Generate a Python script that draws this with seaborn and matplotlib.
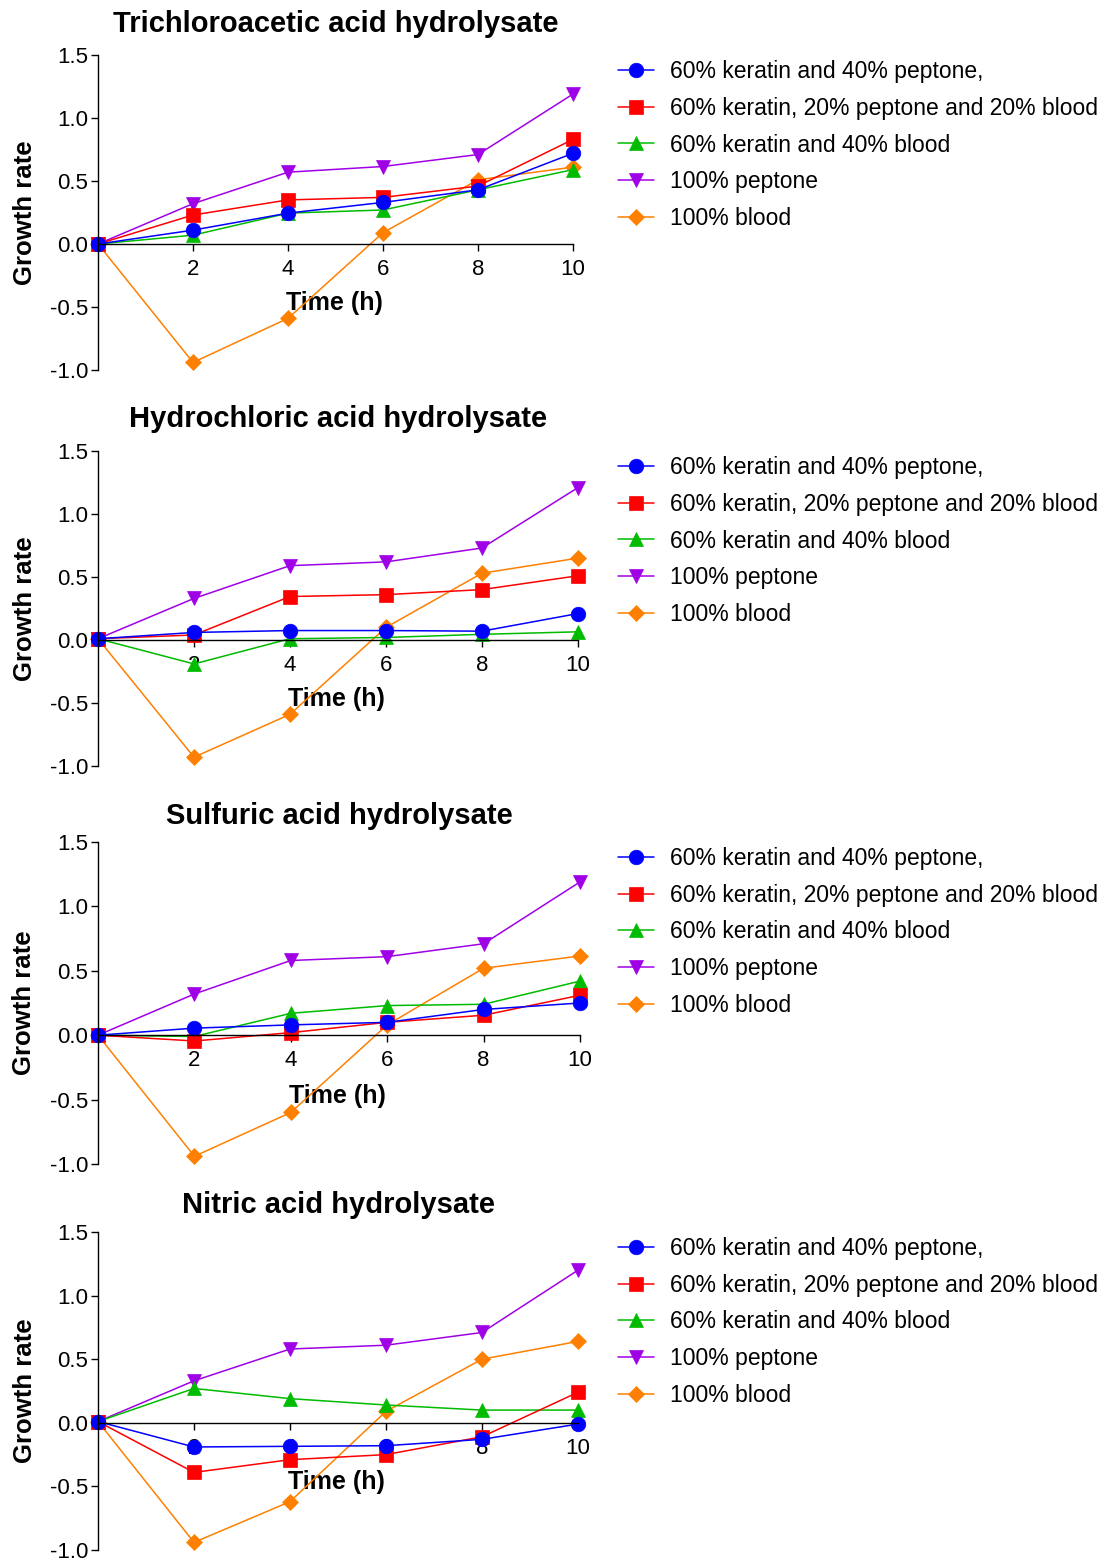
import matplotlib
matplotlib.use("Agg")
import matplotlib.pyplot as plt
import seaborn as sns
import pandas as pd

# ---------------- data ----------------
times = [0, 2, 4, 6, 8, 10]
series_names = [
    "60% keratin and 40% peptone,",
    "60% keratin, 20% peptone and 20% blood",
    "60% keratin and 40% blood",
    "100% peptone",
    "100% blood",
]
panel_titles = [
    "Trichloroacetic acid hydrolysate",
    "Hydrochloric acid hydrolysate",
    "Sulfuric acid hydrolysate",
    "Nitric acid hydrolysate",
]

tca_kp = [0.0, 0.11, 0.245, 0.33, 0.43, 0.72]
tca_kpb = [0.0, 0.23, 0.35, 0.37, 0.46, 0.83]
tca_kb = [0.0, 0.07, 0.245, 0.27, 0.43, 0.59]
tca_p = [0.0, 0.32, 0.57, 0.615, 0.71, 1.19]
tca_b = [0.0, -0.94, -0.59, 0.09, 0.51, 0.61]

hcl_kp = [0.01, 0.06, 0.075, 0.075, 0.07, 0.21]
hcl_kpb = [0.01, 0.04, 0.345, 0.36, 0.40, 0.51]
hcl_kb = [0.01, -0.19, 0.01, 0.02, 0.045, 0.065]
hcl_p = [0.01, 0.33, 0.59, 0.62, 0.73, 1.21]
hcl_b = [0.01, -0.93, -0.59, 0.10, 0.53, 0.65]

sul_kp = [0.0, 0.055, 0.08, 0.10, 0.20, 0.25]
sul_kpb = [0.0, -0.045, 0.02, 0.10, 0.155, 0.31]
sul_kb = [0.0, -0.01, 0.17, 0.23, 0.24, 0.42]
sul_p = [0.0, 0.32, 0.58, 0.61, 0.71, 1.19]
sul_b = [0.0, -0.94, -0.60, 0.08, 0.52, 0.615]

nit_kp = [0.01, -0.19, -0.185, -0.18, -0.13, -0.01]
nit_kpb = [0.01, -0.39, -0.29, -0.25, -0.11, 0.24]
nit_kb = [0.01, 0.27, 0.19, 0.14, 0.10, 0.10]
nit_p = [0.01, 0.33, 0.58, 0.61, 0.71, 1.20]
nit_b = [0.01, -0.94, -0.62, 0.09, 0.50, 0.64]

yticks = [-1.0, -0.5, 0.0, 0.5, 1.0, 1.5]
ytick_labels = ["-1.0", "-0.5", "0.0", "0.5", "1.0", "1.5"]
xticks = [2, 4, 6, 8, 10]
xtick_labels = ["2", "4", "6", "8", "10"]

panels = [
    [tca_kp, tca_kpb, tca_kb, tca_p, tca_b],
    [hcl_kp, hcl_kpb, hcl_kb, hcl_p, hcl_b],
    [sul_kp, sul_kpb, sul_kb, sul_p, sul_b],
    [nit_kp, nit_kpb, nit_kb, nit_p, nit_b],
]

# ---------------- style ----------------
sns.set_theme(style="ticks")
plt.rcParams["font.family"] = ["Liberation Sans", "DejaVu Sans"]
plt.rcParams["axes.unicode_minus"] = False
plt.rcParams["text.color"] = "black"
plt.rcParams["axes.labelcolor"] = "black"

colors = ["#0000FF", "#FF0000", "#00BB00", "#A000E6", "#FF8000"]
markers = ["o", "s", "^", "v", "D"]
msizes = [10.5, 9.5, 10, 10, 8]

W, H = 1109, 1560
fig = plt.figure(figsize=(W / 100, H / 100), dpi=100)

# axes rectangles in pixels: (left, top, right, bottom)
rects = [(98, 55, 573, 370), (98, 451, 578, 766), (98, 842, 580, 1164), (98, 1232, 578, 1550)]
title_pads = [16.5, 17, 13, 13.5]

for pi, (vals_list, title) in enumerate(zip(panels, panel_titles)):
    l, t, r, b = rects[pi]
    ax = fig.add_axes([l / W, 1 - b / H, (r - l) / W, (b - t) / H])
    df = pd.DataFrame({
        "Time": times * len(series_names),
        "Growth": [v for vals in vals_list for v in vals],
        "Series": [s for s in series_names for _ in times],
    })
    handles = {}
    for si in reversed(range(len(series_names))):
        name = series_names[si]
        sub = df[df["Series"] == name]
        sns.lineplot(data=sub, x="Time", y="Growth", ax=ax, color=colors[si],
                     marker=markers[si], markersize=msizes[si],
                     markeredgecolor=colors[si], markeredgewidth=0.5,
                     linewidth=1.1, clip_on=False, label=name, legend=False)
        handles[name] = ax.lines[-1]
    ax.set_xlim(0, 10)
    ax.set_ylim(-1.0, 1.5)
    ax.spines["top"].set_visible(False)
    ax.spines["right"].set_visible(False)
    ax.spines["bottom"].set_position(("data", 0))
    for sp in ("left", "bottom"):
        ax.spines[sp].set_linewidth(1.0)
        ax.spines[sp].set_color("black")
    ax.set_xticks(xticks)
    ax.set_xticklabels(xtick_labels)
    ax.set_yticks(yticks)
    ax.set_yticklabels(ytick_labels)
    ax.tick_params(axis="both", direction="out", length=5, width=1.0,
                   labelsize=16, colors="black")
    ax.tick_params(axis="x", pad=6)
    ax.tick_params(axis="y", pad=2)
    ax.set_title(title, fontsize=21, fontweight="bold", pad=title_pads[pi], color="black")
    ax.set_xlabel("Time (h)", fontsize=18, fontweight="bold")
    ax.set_ylabel("Growth rate", fontsize=18.5, fontweight="bold")
    ax.xaxis.set_label_coords(0.497, 0.25)
    ax.yaxis.set_label_coords(-0.128, 0.5)
    leg = ax.legend([handles[n] for n in series_names], series_names,
                    loc="upper left", bbox_to_anchor=(618 / W, 1 - (t + 5) / H),
                    bbox_transform=fig.transFigure, frameon=False, fontsize=16.5,
                    borderpad=0, borderaxespad=0, handlelength=1.55,
                    handletextpad=0.7, labelspacing=0.6)

fig.savefig("out.png", dpi=100)
